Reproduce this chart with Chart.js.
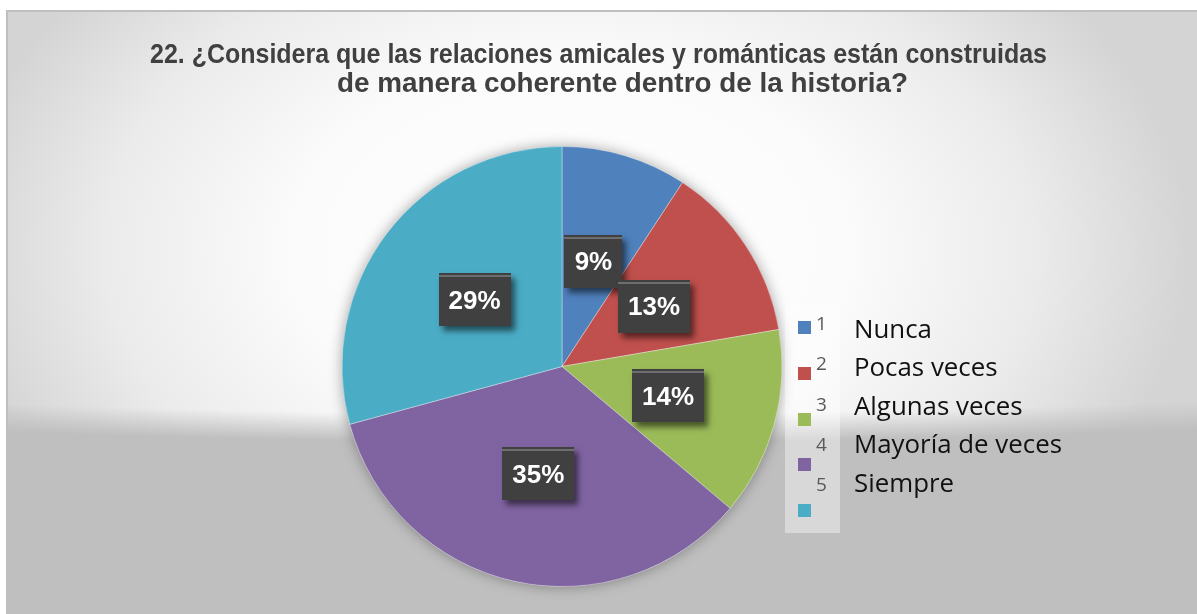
<!DOCTYPE html>
<html>
<head>
<meta charset="utf-8">
<script src="https://cdn.jsdelivr.net/npm/chart.js@4/dist/chart.umd.min.js"></script>
<style>
  html, body { margin: 0; padding: 0; background: #fff; }
  canvas { display: block; }
</style>
</head>
<body>
<canvas id="pie-chart" width="1197" height="614"></canvas>
<script>

// Datos de la pregunta 22
const categorias = ['1', '2', '3', '4', '5'];
const nombres = ['Nunca', 'Pocas veces', 'Algunas veces', 'Mayoría de veces', 'Siempre'];
const respuestas = [12, 17, 18, 45, 38];
const colores = ['#4F81BD', '#C0504D', '#9BBB59', '#8064A2', '#4BACC6'];
const titulo = [
    '22. ¿Considera que las relaciones amicales y románticas están construidas',
    'de manera coherente dentro de la historia?'
];

Chart.defaults.font.family = '"Liberation Sans", Arial, sans-serif';

// Fondo gris con el degradado claro al centro
const fondo = {
    id: 'fondo',
    beforeDraw(chart) {
        const ctx = chart.ctx;
        const w = chart.width, h = chart.height;
        ctx.save();
        ctx.fillStyle = '#ffffff';
        ctx.fillRect(0, 0, w, h);

        // capa clara
        ctx.save();
        ctx.beginPath();
        ctx.rect(6, 10, w - 6, h - 10);
        ctx.clip();
        ctx.translate(570, 250);
        ctx.scale(620, 420);
        let g = ctx.createRadialGradient(0, 0, 0, 0, 0, 1);
        g.addColorStop(0, '#ffffff');
        g.addColorStop(0.45, '#fbfbfb');
        g.addColorStop(0.75, '#ebebeb');
        g.addColorStop(1, '#d4d4d4');
        ctx.fillStyle = g;
        ctx.fillRect(-2, -2, 4, 4);
        ctx.restore();

        // capa gris de abajo
        ctx.save();
        ctx.beginPath();
        ctx.rect(6, 10, w - 6, h - 10);
        ctx.clip();
        ctx.translate(570, -560);
        ctx.scale(4000, 1002);
        g = ctx.createRadialGradient(0, 0, 0, 0, 0, 1);
        g.addColorStop(0, 'rgba(191,191,191,0)');
        g.addColorStop(0.972, 'rgba(191,191,191,0)');
        g.addColorStop(1, 'rgba(191,191,191,1)');
        ctx.fillStyle = g;
        ctx.fillRect(-1, 0, 2, 2);
        ctx.restore();

        // borde
        ctx.strokeStyle = '#bfbfbf';
        ctx.lineWidth = 2;
        ctx.beginPath();
        ctx.moveTo(7, h);
        ctx.lineTo(7, 11);
        ctx.lineTo(w, 11);
        ctx.stroke();

        // titulo, un poco angosto como en el original
        ctx.fillStyle = '#404040';
        ctx.font = 'bold 27px "Liberation Sans", Arial, sans-serif';
        ctx.textAlign = 'center';
        ctx.textBaseline = 'alphabetic';
        const sx1 = 897 / ctx.measureText(titulo[0]).width;
        const sx2 = 571 / ctx.measureText(titulo[1]).width;
        ctx.save();
        ctx.translate(598.5, 63);
        ctx.scale(sx1, 1);
        ctx.fillText(titulo[0], 0, 0);
        ctx.restore();
        ctx.save();
        ctx.translate(622.5, 92);
        ctx.scale(sx2, 1);
        ctx.fillText(titulo[1], 0, 0);
        ctx.restore();
        ctx.restore();
    }
};

// sombra suave alrededor del pie
const sombra = {
    id: 'sombra',
    beforeDatasetsDraw(chart) {
        const arc = chart.getDatasetMeta(0).data[0];
        if (!arc) return;
        const ctx = chart.ctx;
        ctx.save();
        ctx.shadowColor = 'rgba(0,0,0,0.35)';
        ctx.shadowBlur = 14;
        ctx.fillStyle = '#cccccc';
        ctx.beginPath();
        ctx.arc(arc.x, arc.y, arc.outerRadius, 0, Math.PI * 2);
        ctx.fill();
        ctx.restore();
    }
};

// etiquetas con porcentaje en cajas oscuras
const etiquetas = {
    id: 'etiquetas',
    afterDatasetsDraw(chart) {
        const ctx = chart.ctx;
        const meta = chart.getDatasetMeta(0);
        const total = respuestas.reduce((a, b) => a + b, 0);
        ctx.save();
        ctx.font = 'bold 26px "Liberation Sans", Arial, sans-serif';
        ctx.textAlign = 'center';
        ctx.textBaseline = 'middle';
        meta.data.forEach((arc, i) => {
            const p = arc.tooltipPosition();
            const texto = Math.round(respuestas[i] / total * 100) + '%';
            const bw = Math.round(ctx.measureText(texto).width + 20);
            const bh = 53;
            const x = Math.round(p.x - bw / 2), y = Math.round(p.y - bh / 2);
            ctx.save();
            ctx.shadowColor = 'rgba(0,0,0,0.55)';
            ctx.shadowBlur = 6;
            ctx.shadowOffsetX = 4;
            ctx.shadowOffsetY = 5;
            ctx.fillStyle = '#404040';
            ctx.fillRect(x, y, bw, bh);
            ctx.restore();
            ctx.fillStyle = '#6e6e6e';
            ctx.fillRect(x, y + 2, bw, 2);
            ctx.fillStyle = '#ffffff';
            ctx.fillText(texto, p.x, p.y + 2);
        });
        ctx.restore();
    }
};

// leyenda hecha a mano
const leyenda = {
    id: 'leyenda',
    afterDraw(chart) {
        const ctx = chart.ctx;
        ctx.save();
        ctx.fillStyle = 'rgba(255,255,255,0.4)';
        ctx.fillRect(785, 304, 55, 229);
        ctx.textAlign = 'left';
        ctx.textBaseline = 'alphabetic';
        ctx.font = '25px "Open Sans", sans-serif';
        const sn = 208 / ctx.measureText(nombres[3]).width;
        categorias.forEach((c, i) => {
            ctx.fillStyle = colores[i];
            ctx.fillRect(798, Math.round(321 + i * 45.75), 13, 13);
            ctx.fillStyle = '#595959';
            ctx.font = '19px "Open Sans", sans-serif';
            ctx.fillText(c, 816, 330 + i * 40.3);
            ctx.fillStyle = '#111111';
            ctx.font = '25px "Open Sans", sans-serif';
            ctx.save();
            ctx.translate(854, 338 + i * 38.4);
            ctx.scale(sn, 1);
            ctx.fillText(nombres[i], 0, 0);
            ctx.restore();
        });
        ctx.restore();
    }
};

new Chart(document.getElementById('pie-chart'), {
    type: 'pie',
    data: {
        labels: categorias,
        datasets: [
            {
                data: respuestas,
                backgroundColor: colores,
                borderColor: 'rgba(255,255,255,0.35)',
                borderWidth: 1
            }
        ]
    },
    options: {
        responsive: false,
        animation: false,
        layout: {
            padding: { left: 300, right: 373, top: 146, bottom: 27 }
        },
        plugins: {
            legend: { display: false },
            tooltip: { enabled: false },
            title: { display: false }
        }
    },
    plugins: [fondo, sombra, etiquetas, leyenda]
});

</script>
</body>
</html>
